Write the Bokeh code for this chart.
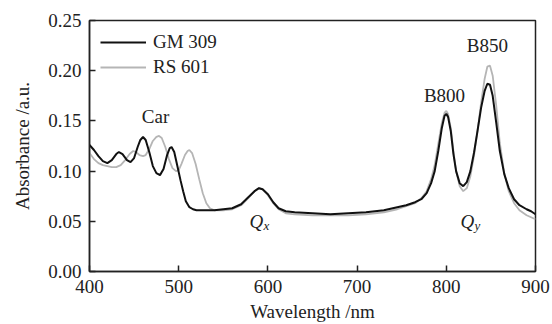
from bokeh.plotting import figure
from bokeh.models import Range1d, FixedTicker, NumeralTickFormatter, Legend, LegendItem, ColumnDataSource
from bokeh.core.properties import value
from bokeh.embed import file_html
from bokeh.resources import INLINE

# GM 309 spectrum (black)
wl_gm = [400, 405, 410, 415, 420, 425, 430, 433, 437, 442, 446, 450, 454, 457, 460, 463, 467, 471, 475,
         479, 483, 487, 490, 492, 495, 498, 502, 505, 508, 512, 516, 520, 530, 540, 550, 560, 570, 578,
         585, 590, 594, 600, 606, 612, 620, 630, 650, 670, 690, 710, 730, 745, 755, 765, 772, 778, 783,
         787, 791, 795, 798, 800, 802, 805, 808, 811, 815, 819, 823, 827, 831, 835, 839, 843, 846, 849,
         852, 856, 860, 865, 870, 876, 882, 890, 895, 900]
abs_gm = [0.126, 0.121, 0.115, 0.110, 0.108, 0.111, 0.117, 0.119, 0.117, 0.111, 0.109, 0.113, 0.124, 0.131,
          0.134, 0.131, 0.119, 0.105, 0.098, 0.096, 0.102, 0.116, 0.123, 0.124, 0.119, 0.107, 0.091, 0.080,
          0.070, 0.064, 0.062, 0.061, 0.061, 0.061, 0.062, 0.063, 0.067, 0.074, 0.080, 0.083, 0.082, 0.077,
          0.069, 0.063, 0.060, 0.059, 0.058, 0.057, 0.058, 0.059, 0.061, 0.064, 0.066, 0.069, 0.072, 0.078,
          0.088, 0.100, 0.120, 0.143, 0.155, 0.157, 0.154, 0.140, 0.117, 0.100, 0.088, 0.085, 0.089, 0.100,
          0.118, 0.140, 0.163, 0.180, 0.187, 0.186, 0.175, 0.148, 0.120, 0.097, 0.083, 0.072, 0.066, 0.062,
          0.060, 0.057]

# RS 601 spectrum (grey)
wl_rs = [400, 405, 410, 415, 420, 425, 430, 435, 440, 445, 449, 452, 456, 460, 463, 467, 471, 475, 478,
         481, 485, 489, 493, 497, 500, 503, 507, 510, 512, 515, 519, 523, 527, 531, 535, 540, 550, 560,
         570, 578, 585, 590, 594, 600, 606, 612, 620, 630, 650, 670, 690, 710, 730, 745, 755, 765, 772,
         778, 783, 787, 791, 795, 798, 800, 802, 805, 808, 811, 815, 819, 823, 827, 831, 835, 839, 843,
         846, 849, 852, 856, 860, 865, 870, 876, 882, 890, 895, 900]
abs_rs = [0.118, 0.112, 0.108, 0.106, 0.105, 0.104, 0.104, 0.106, 0.111, 0.117, 0.120, 0.119, 0.116, 0.115,
          0.116, 0.122, 0.130, 0.134, 0.135, 0.133, 0.124, 0.112, 0.103, 0.100, 0.101, 0.107, 0.116, 0.120,
          0.121, 0.118, 0.107, 0.092, 0.078, 0.068, 0.063, 0.061, 0.061, 0.062, 0.066, 0.073, 0.080, 0.083,
          0.082, 0.076, 0.068, 0.062, 0.058, 0.057, 0.056, 0.056, 0.056, 0.057, 0.059, 0.062, 0.065, 0.068,
          0.073, 0.080, 0.092, 0.106, 0.127, 0.148, 0.158, 0.160, 0.157, 0.143, 0.120, 0.100, 0.085, 0.080,
          0.083, 0.095, 0.115, 0.140, 0.168, 0.192, 0.204, 0.205, 0.195, 0.165, 0.128, 0.098, 0.080, 0.068,
          0.061, 0.056, 0.054, 0.052]

series_names = ["GM 309", "RS 601"]
x_ticks = [400, 500, 600, 700, 800, 900]
y_ticks = [0.00, 0.05, 0.10, 0.15, 0.20, 0.25]

ann_text = ["Car", "B800", "B850"]
ann_x = [474, 798, 846]
ann_y = [0.1545, 0.1755, 0.225]

q_text = ["Q", "Q"]
q_sub = ["x", "y"]
q_x = [579.5, 816.0]
q_y = [0.0497, 0.0497]

FONT = "Liberation Serif"
INK = "#222222"

p = figure(width=552, height=324, x_range=Range1d(400, 900), y_range=Range1d(0, 0.25),
           output_backend="svg", toolbar_location=None,
           min_border_left=89, min_border_right=17, min_border_top=20, min_border_bottom=52)
p.background_fill_color = "white"
p.border_fill_color = "white"
p.grid.visible = False
p.outline_line_color = INK
p.outline_line_width = 1.5

r_rs = p.line(wl_rs, abs_rs, line_color="#b5b5b5", line_width=1.8)
r_gm = p.line(wl_gm, abs_gm, line_color="#111111", line_width=2)

legend = Legend(items=[LegendItem(label=series_names[0], renderers=[r_gm]),
                       LegendItem(label=series_names[1], renderers=[r_rs])],
                location="top_left", margin=2, padding=9, spacing=3,
                glyph_width=46, glyph_height=22, label_standoff=7,
                label_text_font=FONT, label_text_font_size="19px", label_text_color=INK,
                background_fill_alpha=0, border_line_alpha=0)
p.add_layout(legend)

for ax, ticks in ((p.xaxis, x_ticks), (p.yaxis, y_ticks)):
    ax.ticker = FixedTicker(ticks=ticks, minor_ticks=[])
    ax.major_tick_in = 6
    ax.major_tick_out = 0
    ax.minor_tick_in = 0
    ax.minor_tick_out = 0
    ax.axis_line_color = INK
    ax.axis_line_width = 1.5
    ax.major_tick_line_color = INK
    ax.major_tick_line_width = 1.5
    ax.major_label_text_font = FONT
    ax.major_label_text_font_size = "19px"
    ax.major_label_text_color = INK
    ax.axis_label_text_font = FONT
    ax.axis_label_text_font_size = "19px"
    ax.axis_label_text_font_style = "normal"
    ax.axis_label_text_color = INK

p.xaxis.axis_label = "Wavelength /nm"
p.xaxis.major_label_standoff = 8
p.xaxis.axis_label_standoff = 5
p.yaxis.axis_label = "Absorbance /a.u."
p.yaxis.major_label_standoff = 8
p.yaxis.axis_label_standoff = 12
p.yaxis.formatter = NumeralTickFormatter(format="0.00")

ann_src = ColumnDataSource(dict(x=ann_x, y=ann_y, t=ann_text))
p.text(x="x", y="y", text="t", source=ann_src, text_font=value(FONT), text_font_size="19px",
       text_color=INK, text_align="center", text_baseline="alphabetic")

q_src = ColumnDataSource(dict(x=q_x, y=q_y, t=q_text, s=q_sub))
p.text(x="x", y="y", text="t", source=q_src, text_font=value(FONT), text_font_size="19px",
       text_font_style="italic", text_color=INK, text_align="left", text_baseline="alphabetic")
p.text(x="x", y="y", text="s", source=q_src, text_font=value(FONT), text_font_size="13px",
       text_font_style="italic", text_color=INK, text_align="left", text_baseline="alphabetic",
       x_offset=14, y_offset=4)

open("out.html", "w").write(file_html(p, INLINE))
